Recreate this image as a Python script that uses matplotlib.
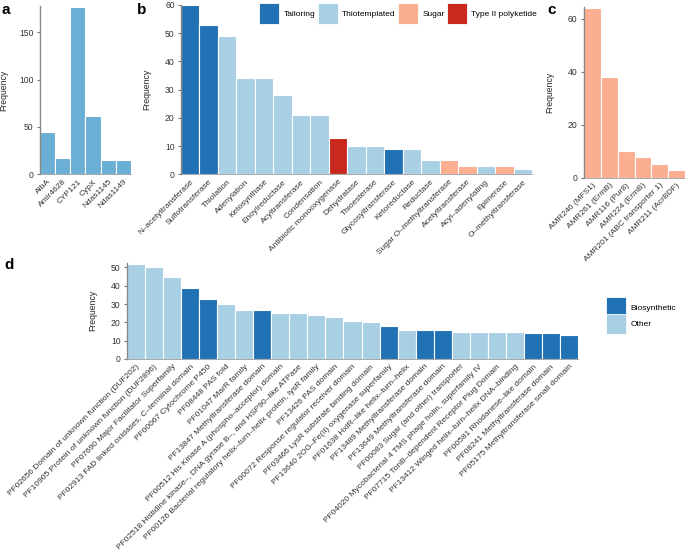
import numpy as np
import matplotlib
matplotlib.use('Agg')
import matplotlib.pyplot as plt
from matplotlib.patches import Patch

plt.rcParams['font.family'] = ['Liberation Sans', 'DejaVu Sans']

# panel a
a_names = ['AlbA', 'Amir4628', 'CYP121', 'CypX', 'Ndas1145', 'Ndas1149']
a_vals = [45, 17, 177, 61, 15, 15]

# panel b
b_names = ['N\u2013acetyltransferase', 'Sulfotransferase', 'Thiolation', 'Adenylation',
           'Ketosynthase', 'Enoylreductase', 'Acyltransferase', 'Condensation',
           'Antibiotic monooxygenase', 'Dehydratase', 'Thioesterase', 'Glycosyltransferase',
           'Ketoreductase', 'Reductase', 'Sugar O\u2013methyltransferase', 'Acetyltransferase',
           'Acyl\u2013adenylating', 'Epimerase', 'O\u2013methyltransferase']
b_vals = [60, 53, 49, 34, 34, 28, 21, 21, 13, 10, 10, 9, 9, 5, 5, 3, 3, 3, 2]
b_class = ['Tailoring', 'Tailoring', 'Thiotemplated', 'Thiotemplated', 'Thiotemplated',
           'Thiotemplated', 'Thiotemplated', 'Thiotemplated', 'Type II polyketide',
           'Thiotemplated', 'Thiotemplated', 'Tailoring', 'Thiotemplated', 'Thiotemplated',
           'Sugar', 'Sugar', 'Thiotemplated', 'Sugar', 'Thiotemplated']

# panel c
c_names = ['AMR246 (MFS1)', 'AMR261 (ErmB)', 'AMR116 (Pur8)', 'AMR224 (ErmB)',
           'AMR201 (ABC transporter 1)', 'AMR211 (AcrBDF)']
c_vals = [64, 38, 10, 8, 5, 3]

# panel d
d_names = ['PF02656 Domain of unknown function (DUF202)',
           'PF10905 Protein of unknown function (DUF2896)',
           'PF07690 Major Facilitator Superfamily',
           'PF02913 FAD linked oxidases, C\u2013terminal domain',
           'PF00067 Cytochrome P450',
           'PF08448 PAS fold',
           'PF01047 MarR family',
           'PF13847 Methyltransferase domain',
           'PF00512 His Kinase A (phospho\u2013acceptor) domain',
           'PF02518 Histidine kinase\u2013, DNA gyrase B\u2013, and HSP90\u2013like ATPase',
           'PF00126 Bacterial regulatory helix\u2013turn\u2013helix protein, lysR family',
           'PF13426 PAS domain',
           'PF00072 Response regulator receiver domain',
           'PF03466 LysR substrate binding domain',
           'PF13640 2OG\u2013Fe(II) oxygenase superfamily',
           'PF01638 HxlR\u2013like helix\u2013turn\u2013helix',
           'PF13489 Methyltransferase domain',
           'PF13649 Methyltransferase domain',
           'PF00083 Sugar (and other) transporter',
           'PF04020 Mycobacterial 4 TMS phage holin, superfamily IV',
           'PF07715 TonB\u2013dependent Receptor Plug Domain',
           'PF13412 Winged helix\u2013turn\u2013helix DNA\u2013binding',
           'PF00581 Rhodanese\u2013like domain',
           'PF08241 Methyltransferase domain',
           'PF05175 Methyltransferase small domain']
d_vals = [52, 50, 45, 39, 33, 30, 27, 27, 25, 25, 24, 23, 21, 20, 18, 16, 16, 16,
          15, 15, 15, 15, 14, 14, 13]
d_class = ['Other', 'Other', 'Other', 'Biosynthetic', 'Biosynthetic', 'Other', 'Other',
           'Biosynthetic', 'Other', 'Other', 'Other', 'Other', 'Other', 'Other',
           'Biosynthetic', 'Other', 'Biosynthetic', 'Biosynthetic', 'Other', 'Other',
           'Other', 'Other', 'Biosynthetic', 'Biosynthetic', 'Biosynthetic']

b_colors = {'Tailoring': '#2171b5', 'Thiotemplated': '#a9cfe5',
            'Sugar': '#fcae91', 'Type II polyketide': '#c8291c'}
d_colors = {'Biosynthetic': '#2171b5', 'Other': '#a9cfe5'}

W, H = 685, 556
fig = plt.figure(figsize=(W / 100, H / 100), dpi=100)


def add_ax(x0, x1, ytop, ybot):
    return fig.add_axes([x0 / W, 1 - ybot / H, (x1 - x0) / W, (ybot - ytop) / H])


def style(ax, names, ymax, yticks):
    ax.set_xlim(-0.5, len(names) - 0.5)
    ax.set_ylim(0, ymax)
    ax.set_yticks(yticks)
    ax.set_xticks(range(len(names)))
    ax.set_xticklabels(names, rotation=45, ha='right', rotation_mode='anchor',
                       fontsize=6, color='#333333')
    ax.tick_params(axis='y', labelsize=6.2, labelcolor='#333333', length=2.5,
                   color='#777777', width=0.8, pad=2)
    ax.tick_params(axis='x', length=0, pad=3)
    for s in ['top', 'right']:
        ax.spines[s].set_visible(False)
    ax.spines['left'].set_color('#888888')
    ax.spines['bottom'].set_color('#999999')
    ax.spines['left'].set_linewidth(1.0)
    ax.spines['bottom'].set_linewidth(0.6)
    ax.set_ylabel('Frequency', fontsize=6.2, color='#222222')


# a
ax_a = add_ax(40, 131, 6, 174)
ax_a.bar(range(len(a_vals)), a_vals, width=1.0, color='#6baed6',
         edgecolor='white', linewidth=0.8)
style(ax_a, a_names, 178, [0, 50, 100, 150])
ax_a.yaxis.labelpad = 8

# b
ax_b = add_ax(181, 532, 5, 174.3)
ax_b.bar(range(len(b_vals)), b_vals, width=1.0,
         color=[b_colors[c] for c in b_class], edgecolor='white', linewidth=0.8)
style(ax_b, b_names, 60, [0, 10, 20, 30, 40, 50, 60])
ax_b.yaxis.labelpad = 10
handles = [Patch(facecolor=b_colors[k], edgecolor='white', linewidth=0.6) for k in b_colors]
fig.legend(handles, list(b_colors), loc='upper left', bbox_to_anchor=(256 / W, 1 - 0 / H),
           ncol=4, frameon=False, fontsize=6, handlelength=2.4, handleheight=3.4,
           columnspacing=0.3, handletextpad=0.5, borderaxespad=0)

# c
ax_c = add_ax(584, 685, 6.7, 177.7)
ax_c.bar(range(len(c_vals)), c_vals, width=1.0, color='#fcae91',
         edgecolor='white', linewidth=0.8)
style(ax_c, c_names, 64.6, [0, 20, 40, 60])
ax_c.yaxis.labelpad = 10

# d
ax_d = add_ax(127, 578, 262.5, 359)
ax_d.bar(range(len(d_vals)), d_vals, width=1.0,
         color=[d_colors[c] for c in d_class], edgecolor='white', linewidth=0.8)
style(ax_d, d_names, 52.7, [0, 10, 20, 30, 40, 50])
ax_d.yaxis.labelpad = 10
handles = [Patch(facecolor=d_colors[k], edgecolor='white', linewidth=0.6) for k in d_colors]
fig.legend(handles, list(d_colors), loc='upper left', bbox_to_anchor=(603 / W, 1 - 294 / H),
           ncol=1, frameon=False, fontsize=6, handlelength=2.4, handleheight=3.4,
           labelspacing=-0.5, handletextpad=0.5, borderaxespad=0)

for lab, x, y in [('a', 2, 14), ('b', 137, 14), ('c', 547, 14), ('d', 4, 269)]:
    fig.text(x / W, 1 - y / H, lab, fontsize=11, fontweight='bold', ha='left', va='baseline')

fig.savefig('out.png', dpi=100)
